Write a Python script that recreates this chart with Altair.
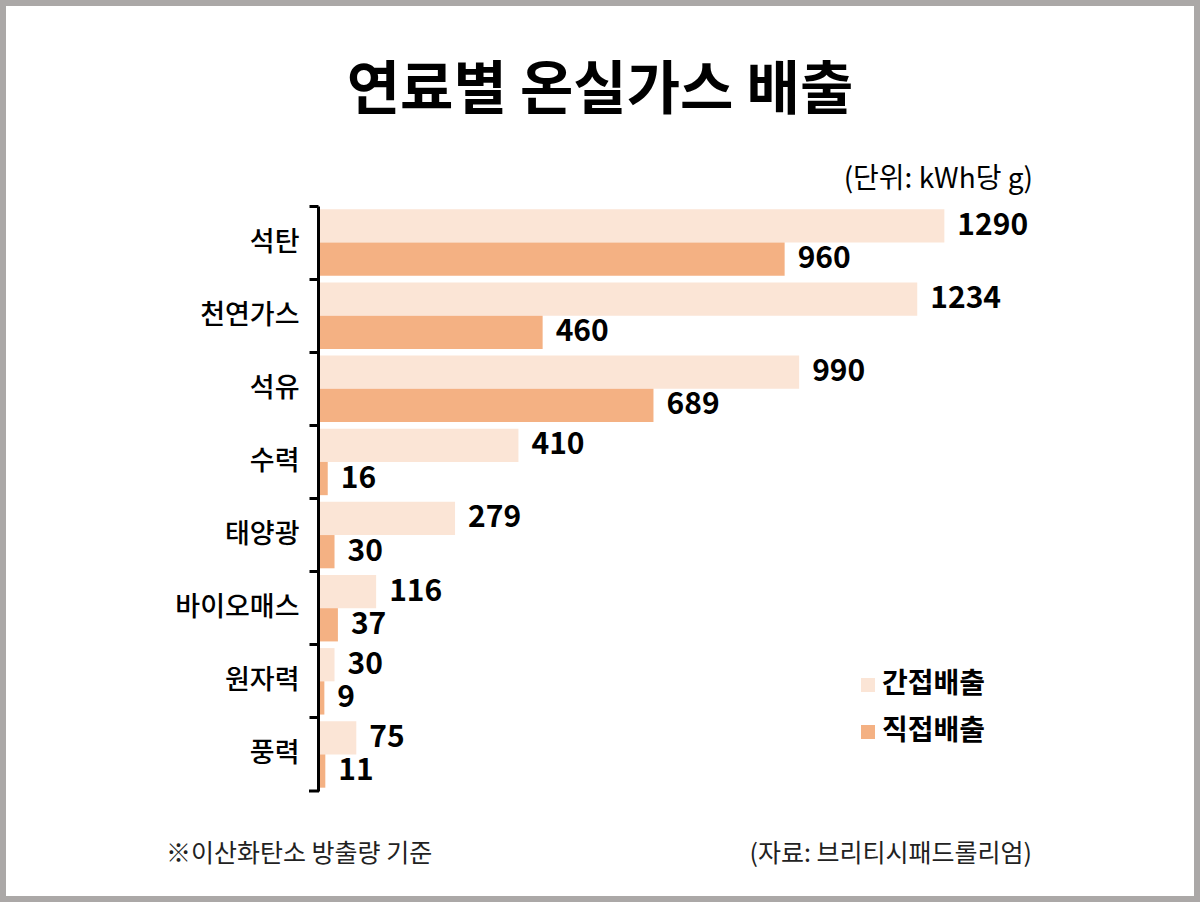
import altair as alt
import pandas as pd

# ---- data ----
categories = ["석탄", "천연가스", "석유", "수력", "태양광", "바이오매스", "원자력", "풍력"]
indirect = [1290, 1234, 990, 410, 279, 116, 30, 75]
direct = [960, 460, 689, 16, 30, 37, 9, 11]
series = ["간접배출", "직접배출"]
colors = ["#FBE5D6", "#F4B183"]

title_text = "연료별 온실가스 배출"
unit_text = "(단위: kWh당 g)"
note_text = "※이산화탄소 방출량 기준"
source_text = "(자료: 브리티시패드롤리엄)"

rows = []
for c, a, b in zip(categories, indirect, direct):
    rows.append({"fuel": c, "series": series[0], "value": a})
    rows.append({"fuel": c, "series": series[1], "value": b})
df = pd.DataFrame(rows)

FONT = "Noto Sans CJK KR"
W, H = 726, 585
PL, PT, PR, PB = 320, 206, 154, 111

y_enc = alt.Y(
    "fuel:N",
    sort=categories,
    scale=alt.Scale(paddingInner=0, paddingOuter=0),
    axis=alt.Axis(
        title=None, bandPosition=0, tickSize=9, tickWidth=3, tickColor="#000",
        domainWidth=3, domainColor="#000", offset=2,
        labelFontSize=27, labelColor="#000", labelPadding=10, labelFont=FONT,
        labelFontWeight=500, labelBaseline="middle", zindex=1,
    ),
)
x_enc = alt.X("value:Q", scale=alt.Scale(domain=[0, 1500], nice=False), axis=None)
yoff = alt.YOffset("series:N", sort=series, scale=alt.Scale(paddingOuter=0.1, paddingInner=0))

base = alt.Chart(df)

bars = base.mark_bar().encode(
    y=y_enc,
    x=x_enc,
    yOffset=yoff,
    color=alt.Color(
        "series:N",
        scale=alt.Scale(domain=series, range=colors),
        legend=alt.Legend(
            title=None, orient="none", legendX=534, legendY=465,
            symbolType="square", symbolSize=196, symbolStrokeWidth=0,
            labelFontSize=28, labelFontWeight="bold", labelFont=FONT,
            labelColor="#000", rowPadding=19, labelOffset=0, padding=0,
        ),
    ),
)

labels = base.mark_text(
    align="left", baseline="middle", dx=13, fontSize=30, fontWeight="bold", font=FONT, color="#000"
).encode(
    y=alt.Y("fuel:N", sort=categories),
    x=alt.X("value:Q"),
    yOffset=alt.YOffset("series:N", sort=series),
    text=alt.Text("value:Q"),
)

one = alt.Chart(pd.DataFrame({"k": [0]}))

end_tick = one.mark_rule(color="#000", strokeWidth=3).encode(
    x=alt.value(-11), x2=alt.value(-1), y=alt.value(H)
)

frame = one.mark_rect(fill=None, stroke="#ABA8A7", strokeWidth=6).encode(
    x=alt.value(-PL + 3), x2=alt.value(W + PR - 3),
    y=alt.value(-PT + 3), y2=alt.value(H + PB - 3),
)

def txt(s, x, y, size, weight="normal", align="left", color="#000"):
    return alt.Chart(pd.DataFrame({"t": [s]})).mark_text(
        align=align, baseline="middle", fontSize=size, fontWeight=weight, font=FONT, color=color
    ).encode(text="t:N", x=alt.value(x), y=alt.value(y))

title = txt(title_text, 600 - PL, 92 - PT, 58, "bold", "center")
unit = txt(unit_text, 1033 - PL, 180 - PT, 28, "normal", "right")
note = txt(note_text, 166 - PL, 854 - PT, 25, "normal", "left", "#222")
source = txt(source_text, 1032 - PL, 854 - PT, 25, "normal", "right", "#222")

chart = alt.layer(bars, labels, end_tick, frame, title, unit, note, source).properties(
    width=W, height=H,
    autosize=alt.AutoSizeParams(type="none"),
    padding={"left": PL, "top": PT, "right": PR, "bottom": PB},
    background="#FFFFFF",
).configure(font=FONT, view=alt.ViewConfig(stroke="transparent", strokeWidth=0))

chart.save("out.html", embed_options={"renderer": "svg", "actions": False})
